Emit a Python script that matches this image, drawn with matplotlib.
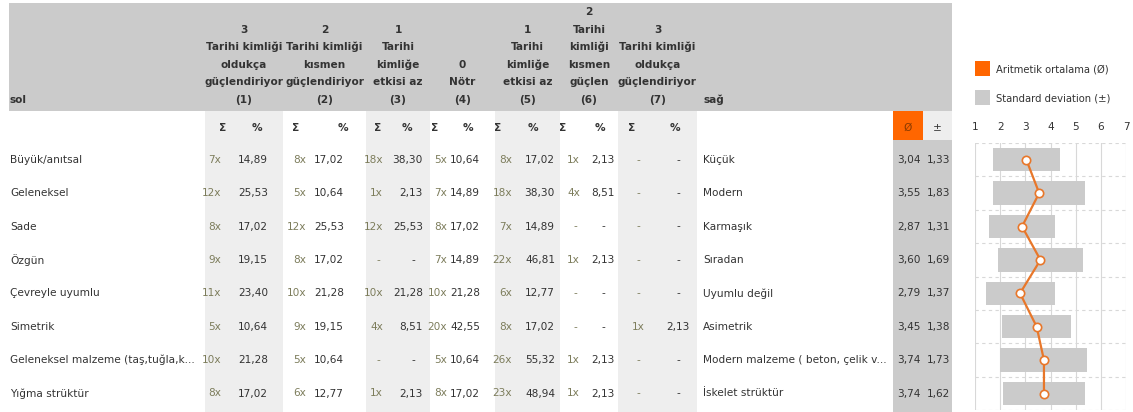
import matplotlib
matplotlib.use("Agg")
import matplotlib.pyplot as plt
from matplotlib.patches import Rectangle

plt.rcParams['font.family'] = ['DejaVu Sans']

left_labels = ["Büyük/anıtsal", "Geleneksel", "Sade", "Özgün", "Çevreyle uyumlu",
               "Simetrik", "Geleneksel malzeme (taş,tuğla,k...", "Yığma strüktür"]
right_labels = ["Küçük", "Modern", "Karmaşık", "Sıradan", "Uyumlu değil",
                "Asimetrik", "Modern malzeme ( beton, çelik v...", "İskelet strüktür"]
col_headers = [
    ["3", "Tarihi kimliği", "oldukça", "güçlendiriyor", "(1)"],
    ["2", "Tarihi kimliği", "kısmen", "güçlendiriyor", "(2)"],
    ["1", "Tarihi", "kimliğe", "etkisi az", "(3)"],
    ["0", "Nötr", "(4)"],
    ["1", "Tarihi", "kimliğe", "etkisi az", "(5)"],
    ["2", "Tarihi", "kimliği", "kısmen", "güçlen", "(6)"],
    ["3", "Tarihi kimliği", "oldukça", "güçlendiriyor", "(7)"],
]
counts = [
    [7, 8, 18, 5, 8, 1, None],
    [12, 5, 1, 7, 18, 4, None],
    [8, 12, 12, 8, 7, None, None],
    [9, 8, None, 7, 22, 1, None],
    [11, 10, 10, 10, 6, None, None],
    [5, 9, 4, 20, 8, None, 1],
    [10, 5, None, 5, 26, 1, None],
    [8, 6, 1, 8, 23, 1, None],
]
percents = [
    [14.89, 17.02, 38.30, 10.64, 17.02, 2.13, None],
    [25.53, 10.64, 2.13, 14.89, 38.30, 8.51, None],
    [17.02, 25.53, 25.53, 17.02, 14.89, None, None],
    [19.15, 17.02, None, 14.89, 46.81, 2.13, None],
    [23.40, 21.28, 21.28, 21.28, 12.77, None, None],
    [10.64, 19.15, 8.51, 42.55, 17.02, None, 2.13],
    [21.28, 10.64, None, 10.64, 55.32, 2.13, None],
    [17.02, 12.77, 2.13, 17.02, 48.94, 2.13, None],
]
means = [3.04, 3.55, 2.87, 3.60, 2.79, 3.45, 3.74, 3.74]
sds = [1.33, 1.83, 1.31, 1.69, 1.37, 1.38, 1.73, 1.62]
scale_ticks = [1, 2, 3, 4, 5, 6, 7]
legend_labels = ["Aritmetik ortalama (Ø)", "Standard deviation (±)"]

W, H = 1133, 412
fig = plt.figure(figsize=(W / 100, H / 100), dpi=100)
ax = fig.add_axes([0, 0, 1, 1])
ax.set_xlim(0, W)
ax.set_ylim(H, 0)
ax.axis('off')

HEAD_GREY = '#cbcbcb'
STRIPE = '#eeeeee'
ORANGE = '#ff6600'
TXT = '#333333'
CNT = '#7d7d5c'
FS = 7.6

col_edges = [205, 283, 366, 430, 495, 560, 618, 697]
sig_right = [221, 306, 383, 447, 512, 580, 645]
pct_right = [268, 344, 423, 480, 555, 615, 690]
sig_dash = [214, 298, 378, 441, 505, 575, 638]
pct_dash = [255, 333, 413, 468, 543, 603, 678]
sig_head = [223, 296, 378, 435, 498, 563, 632]
pct_head = [257, 343, 407, 468, 533, 600, 675]

row_top0 = 143
row_h = 33.4
row_y = [row_top0 + row_h * (i + 0.5) for i in range(len(left_labels))]

# header background
ax.add_patch(Rectangle((9, 3), 943, 108, color=HEAD_GREY, lw=0))
# column stripes
for j in range(7):
    if j % 2 == 0:
        ax.add_patch(Rectangle((col_edges[j], 111), col_edges[j + 1] - col_edges[j], H - 111,
                               color=STRIPE, lw=0))
# Ø / ± columns
ax.add_patch(Rectangle((893, 111), 30, 29, color=ORANGE, lw=0))
ax.add_patch(Rectangle((923, 111), 29, 29, color=STRIPE, lw=0))
ax.add_patch(Rectangle((893, 140), 59, H - 140, color=HEAD_GREY, lw=0))

# header texts
ax.text(10, 100, "sol", ha='left', va='center', fontsize=FS, fontweight='bold', color=TXT)
ax.text(703, 100, "sağ", ha='left', va='center', fontsize=FS, fontweight='bold', color=TXT)
for j, lines in enumerate(col_headers):
    cx = (col_edges[j] + col_edges[j + 1]) / 2
    n = len(lines)
    for k, line in enumerate(lines):
        y = 100 - 17.6 * (n - 1 - k)
        ax.text(cx, y, line, ha='center', va='center', fontsize=FS, fontweight='bold', color=TXT)
    ax.text(sig_head[j], 128, "Σ", ha='center', va='center', fontsize=FS, fontweight='bold', color=TXT)
    ax.text(pct_head[j], 128, "%", ha='center', va='center', fontsize=FS, fontweight='bold', color=TXT)
ax.text(908, 128, "Ø", ha='center', va='center', fontsize=FS, color='#8a3a00')
ax.text(937, 128, "±", ha='center', va='center', fontsize=FS, color=TXT)

# rows
for i, y in enumerate(row_y):
    ax.text(10, y, left_labels[i], ha='left', va='center', fontsize=FS, color=TXT)
    ax.text(703, y, right_labels[i], ha='left', va='center', fontsize=FS, color=TXT)
    for j in range(7):
        c = counts[i][j]
        p = percents[i][j]
        if c is None:
            ax.text(sig_dash[j], y, "-", ha='center', va='center', fontsize=FS, color=CNT)
            ax.text(pct_dash[j], y, "-", ha='center', va='center', fontsize=FS, color=TXT)
        else:
            ax.text(sig_right[j], y, f"{c}x", ha='right', va='center', fontsize=FS, color=CNT)
            ax.text(pct_right[j], y, f"{p:.2f}".replace('.', ','), ha='right', va='center',
                    fontsize=FS, color=TXT)
    ax.text(921, y, f"{means[i]:.2f}".replace('.', ','), ha='right', va='center', fontsize=FS, color=TXT)
    ax.text(950, y, f"{sds[i]:.2f}".replace('.', ','), ha='right', va='center', fontsize=FS, color=TXT)

# legend
ax.add_patch(Rectangle((975, 61), 15, 15, color=ORANGE, lw=0))
ax.add_patch(Rectangle((975, 90), 15, 15, color=HEAD_GREY, lw=0))
ax.text(996, 69, legend_labels[0], ha='left', va='center', fontsize=FS - 0.4, color=TXT)
ax.text(996, 98, legend_labels[1], ha='left', va='center', fontsize=FS - 0.4, color=TXT)

# chart
x0, x1 = 975, 1126
ax2 = fig.add_axes([x0 / W, 1 - (row_top0 + row_h * 8) / H, (x1 - x0) / W, row_h * 8 / H])
ax2.set_xlim(1, 7)
ax2.set_ylim(8, 0)
ax2.patch.set_alpha(0)
for s in ax2.spines.values():
    s.set_visible(False)
for t in scale_ticks:
    ax2.axvline(t, color='#d8d8d8', lw=0.8, zorder=0)
for k in range(9):
    ax2.axhline(k, color='#d8d8d8', lw=0.8, ls=(0, (3, 3)), zorder=0)
ypos = [i + 0.5 for i in range(len(means))]
lefts = [m - s for m, s in zip(means, sds)]
widths = [2 * s for s in sds]
ax2.barh(ypos, widths, left=lefts, height=0.7, color=HEAD_GREY, zorder=1)
ax2.plot(means, ypos, color='#e8772a', lw=1.6, marker='o', markersize=6,
         markerfacecolor='white', markeredgecolor='#e8772a', markeredgewidth=1.2, zorder=3)
ax2.set_xticks(scale_ticks)
ax2.set_yticks([])
ax2.xaxis.tick_top()
ax2.tick_params(axis='x', length=0, pad=8, labelsize=FS, labelcolor=TXT)
ax2.set_xticklabels([str(t) for t in scale_ticks])

fig.savefig("out.png", dpi=100)
